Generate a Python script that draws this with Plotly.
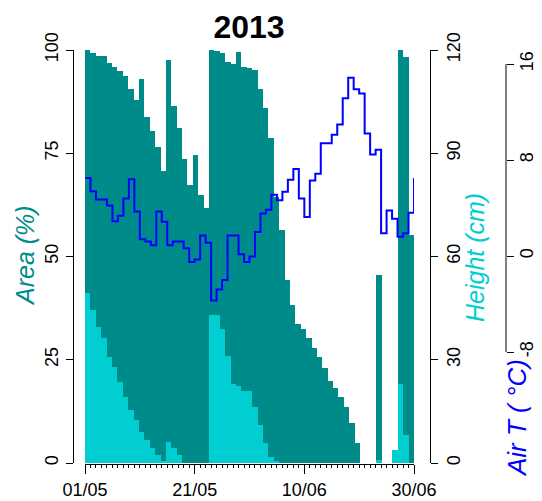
import plotly.graph_objects as go

# The page body keeps its default 8px margin, so the figure is drawn 8px in
# from the top-left corner; size it so it fills the 542x501 window exactly.
OFF = 8
W, H = 542 - OFF, 501 - OFF

# ---- data (61 days, 01/05/2013 .. 30/06/2013) ----
days = list(range(61))
area_pct = [100, 99.3, 98.5, 98.5, 96.8, 96, 94.8, 93.7, 90.6, 87.8,
            92.9, 83.7, 80.4, 76.6, 70.8, 97.7, 86.5, 81, 73.7, 67.3,
            74.5, 64.9, 61.7, 100, 99.8, 99.2, 97, 96.5, 99.4, 96,
            95.6, 95.2, 90.6, 85.9, 78.6, 64.5, 56.4, 44.4, 38.3, 33.7,
            32.5, 30.2, 27.8, 25.6, 22.9, 19.9, 18.1, 16.1, 13.6, 9.8,
            4.9, 0, 0, 0, 45.5, 0, 0, 0, 100, 98.4,
            55.2]
height_cm = [49.3, 44.5, 39.6, 36.2, 30.9, 28, 23.6, 19.3, 15.4, 12.5,
             9.1, 6.7, 4.3, 2.3, 0.4, 6.2, 4.3, 2.3, 0, 0,
             0, 0, 0, 43, 43, 39, 31, 23, 22.5, 21,
             21, 16.4, 11, 5.7, 1.8, 0.4, 0, 0, 0, 0,
             0, 0, 0, 0, 0, 0, 0, 0, 0, 0,
             0, 0, 0, 0, 0.8, 0, 0, 3.8, 23, 8.1,
             0]
air_t = [6.5, 5.4, 4.7, 4.7, 4.2, 2.9, 3.35, 4.8, 6.4, 3.7,
         1.4, 1.2, 0.9, 3.7, 2.85, 0.9, 1.2, 1.2, 0.65, -0.5,
         -0.3, 1.7, 1.1, -3.7, -2.8, -2.0, 1.7, 1.7, 0.15, -0.5,
         -0.05, 2.0, 3.55, 3.85, 5.1, 4.65, 5.35, 6.35, 7.25, 4.8,
         3.25, 6.3, 6.85, 9.4, 9.4, 10.1, 10.95, 13.15, 14.85, 13.9,
         13.55, 10.2, 8.45, 8.85, 1.9, 3.8, 3.1, 1.6, 1.9, 3.6,
         6.5]
tick_days = [0, 20, 40, 60]
tick_labels = ["01/05", "21/05", "10/06", "30/06"]
area_ticks = [0, 25, 50, 75, 100]
height_ticks = [0, 30, 60, 90, 120]
temp_ticks = [-8, 0, 8, 16]
temp_labels = ["-8", "0", "8", "16"]

DARK = "#008B8B"
LIGHT = "#00CED1"
BLUE = "#0000FF"
FONT = "Liberation Sans"

n = len(days)
span = tick_days[-1] - tick_days[0]
bw = span / n
bar_x = [(d + 0.5) * bw for d in days]

def px(x):
    return (x - OFF) / W

def py(y):
    return (H + OFF - y) / H

fig = go.Figure()
fig.add_trace(go.Bar(x=bar_x, y=area_pct, width=[bw] * n, marker=dict(color=DARK, line=dict(width=0)),
                     yaxis="y", showlegend=False))
fig.add_trace(go.Bar(x=bar_x, y=height_cm, width=[bw] * n, marker=dict(color=LIGHT, line=dict(width=0)),
                     yaxis="y2", showlegend=False))
fig.add_trace(go.Scatter(x=days, y=air_t, mode="lines", line=dict(color=BLUE, width=2, shape="hv"),
                         yaxis="y3", showlegend=False))

tickfont = dict(family=FONT, size=18, color="black")
common_y = dict(showgrid=False, zeroline=False, showline=True, linecolor="black", linewidth=1,
                ticks="outside", ticklen=7, tickwidth=1, tickcolor="black", tickangle=-90,
                tickfont=tickfont, tickmode="array", anchor="free", fixedrange=True, automargin=False)

top_px, bot_px = 50, 463
t_top = (256 - top_px) / 12.0
t_bot = (256 - bot_px) / 12.0

fig.update_layout(
    width=W, height=H, autosize=False,
    margin=dict(l=0, r=0, t=0, b=0, pad=0, autoexpand=False),
    paper_bgcolor="white", plot_bgcolor="white",
    barmode="overlay", bargap=0,
    xaxis=dict(domain=[px(85), px(414)], range=[0, 60], showgrid=False, zeroline=False,
               showline=True, linecolor="black", linewidth=1, automargin=False,
               tickmode="array", tickvals=tick_days, ticktext=tick_labels,
               ticks="outside", ticklen=9, tickcolor="black", tickfont=tickfont,
               minor=dict(dtick=1, tick0=0, ticks="outside", ticklen=3, tickcolor="black", showgrid=False),
               anchor="free", position=py(464)),
    yaxis=dict(domain=[py(bot_px), py(top_px)], range=[0, 100], tickvals=area_ticks,
               position=px(72.5), side="left", **common_y),
    yaxis2=dict(overlaying="y", range=[0, 120], tickvals=height_ticks,
                position=px(430), side="right", **common_y),
    yaxis3=dict(overlaying="y", range=[t_bot, t_top], tickvals=temp_ticks, ticktext=temp_labels,
                position=px(506), side="right", ticklabelstandoff=-3,
                **{**common_y, "showline": False}),
    title=dict(text="<b>2013</b>", x=px(249), y=py(27), xanchor="center", yanchor="middle",
               automargin=False, font=dict(family=FONT, size=32, color="black")),
    shapes=[dict(type="line", xref="paper", yref="y3", x0=px(506), x1=px(506),
                 y0=temp_ticks[0], y1=temp_ticks[-1], line=dict(color="black", width=1))],
    annotations=[
        dict(text="<i>Area (%)</i>", x=px(25), y=py(256), xref="paper", yref="paper", showarrow=False,
             xanchor="center", yanchor="middle",
             textangle=-90, font=dict(family=FONT, size=25, color=DARK)),
        dict(text="<i>Height (cm)</i>", x=px(475), y=py(258), xref="paper", yref="paper", showarrow=False,
             xanchor="center", yanchor="middle",
             textangle=-90, font=dict(family=FONT, size=25, color=LIGHT)),
        dict(text="<i>Air T ( °C)</i>", x=px(517), y=py(418), xref="paper", yref="paper", showarrow=False,
             xanchor="center", yanchor="middle",
             textangle=-90, font=dict(family=FONT, size=26, color=BLUE)),
    ],
)

fig.write_html("out.html")
